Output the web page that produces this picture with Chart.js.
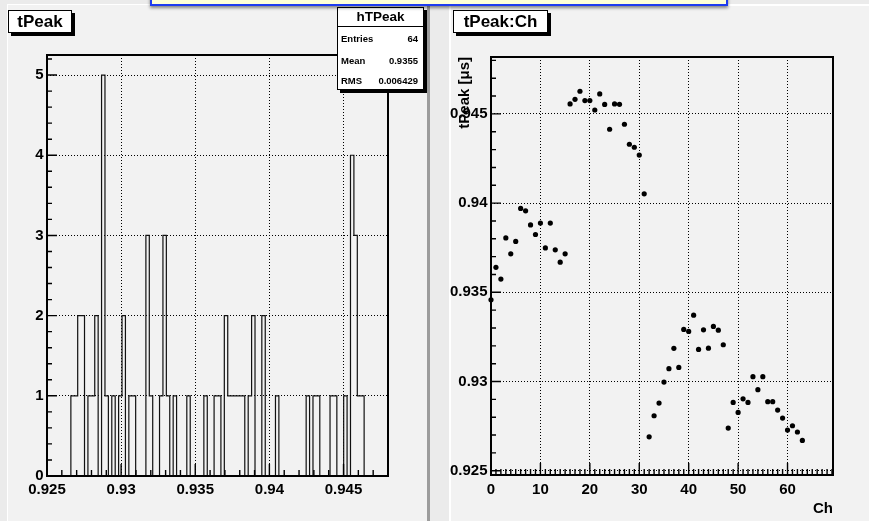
<!DOCTYPE html>
<html>
<head>
<meta charset="utf-8">
<title>tPeak</title>
<script src="https://cdn.jsdelivr.net/npm/chart.js@4.4.1/dist/chart.umd.min.js"></script>
<style>
  html, body { margin: 0; padding: 0; }
  body {
    width: 869px; height: 521px; overflow: hidden; position: relative;
    background: #ebebeb;
    font-family: "Liberation Sans", Arial, sans-serif;
  }
  .pad { position: absolute; background: #f2f2f2; box-sizing: border-box; }
  #padL { left: 7px; top: 4px; width: 423px; height: 530px;
          border-top: 1px solid #fff; border-left: 1px solid #fff; border-right: 3px solid #9c9c9c; }
  #padR { left: 449px; top: 4px; width: 430px; height: 530px;
          border-top: 2px solid #fff; border-left: 2px solid #fff; }
  canvas { position: absolute; top: 0; }
  #cL { left: 0; }
  #cR { left: 430px; }
  .ptitle {
    position: absolute; box-sizing: border-box; background: #fff;
    border: 1px solid #000; box-shadow: 3px 3px 0 #000;
    font-weight: bold; font-size: 17px; line-height: 21px; text-align: center; color: #000;
  }
  #tL { left: 8px; top: 10px; width: 64px; height: 23px; }
  #tR { left: 453px; top: 10px; width: 95px; height: 23px; }
  #stats {
    position: absolute; box-sizing: border-box; left: 337px; top: 7px; width: 87px; height: 83px;
    background: #fff; border: 1px solid #000; box-shadow: 3px 3px 0 #000; color: #000;
  }
  #stats .sh {
    position: absolute; left: 0; top: 0; right: 0; height: 19px; box-sizing: border-box;
    border-bottom: 1px solid #000; text-align: center;
    font-weight: bold; font-size: 13.5px; line-height: 18px;
  }
  #stats .sr {
    position: absolute; left: 3px; right: 5px; height: 12px;
    font-weight: bold; font-size: 9.5px; line-height: 12px;
  }
  #stats .sr .v { position: absolute; right: 0; top: 0; }
  #banner {
    position: absolute; left: 150px; top: -14px; width: 578px; height: 20px; box-sizing: border-box;
    background: #ffffd6; border: 2px solid #1f3cf0; box-shadow: 0 2px 3px rgba(0,0,0,0.45);
  }
</style>
</head>
<body>
<div class="pad" id="padL"></div>
<div class="pad" id="padR"></div>
<canvas id="cL" width="430" height="521"></canvas>
<canvas id="cR" width="439" height="521"></canvas>
<div class="ptitle" id="tL"></div>
<div class="ptitle" id="tR"></div>
<div id="stats"></div>
<div id="banner"></div>
<script>
// ---- hTPeak: tPeak distribution, 100 bins on [0.925, 0.948] ----
const histName = 'hTPeak';
const histTitle = 'tPeak';
const histMin = 0.925;
const histMax = 0.948;
const histYMax = 5.25;
const histCounts = [
  0, 0, 0, 0, 0, 0, 0, 1, 1, 2,
  2, 0, 1, 1, 2, 0, 5, 1, 0, 1,
  0, 1, 2, 0, 1, 1, 0, 0, 0, 3,
  1, 0, 0, 1, 3, 1, 0, 1, 0, 0,
  0, 1, 0, 0, 0, 0, 1, 0, 0, 1,
  1, 0, 2, 1, 1, 1, 1, 1, 0, 1,
  2, 0, 0, 2, 0, 0, 0, 1, 0, 0,
  0, 0, 0, 0, 0, 0, 1, 0, 1, 1,
  0, 0, 0, 1, 1, 0, 0, 1, 0, 4,
  3, 1, 1, 0, 0, 0, 0, 0, 0, 0
];
const histXTicks = [0.925, 0.93, 0.935, 0.94, 0.945];
const histXLabels = ['0.925', '0.93', '0.935', '0.94', '0.945'];
const histYTicks = [0, 1, 2, 3, 4, 5];
const histYLabels = ['0', '1', '2', '3', '4', '5'];
const statLabels = ['Entries', 'Mean', 'RMS'];
const statValues = ['64', '0.9355', '0.006429'];

// ---- tPeak:Ch: peak time per channel ----
const scatterTitle = 'tPeak:Ch';
const channels = [
   0,  1,  2,  3,  4,  5,  6,  7,  8,  9, 10, 11, 12, 13, 14, 15,
  16, 17, 18, 19, 20, 21, 22, 23, 24, 25, 26, 27, 28, 29, 30, 31,
  32, 33, 34, 35, 36, 37, 38, 39, 40, 41, 42, 43, 44, 45, 46, 47,
  48, 49, 50, 51, 52, 53, 54, 55, 56, 57, 58, 59, 60, 61, 62, 63
];
const tPeak = [
  0.93458, 0.93640, 0.93574, 0.93805, 0.93716, 0.93785, 0.93970, 0.93957,
  0.93878, 0.93824, 0.93888, 0.93749, 0.93888, 0.93738, 0.93669, 0.93716,
  0.94556, 0.94582, 0.94627, 0.94575, 0.94575, 0.94522, 0.94612, 0.94553,
  0.94414, 0.94556, 0.94554, 0.94442, 0.94330, 0.94313, 0.94269, 0.94052,
  0.92690, 0.92808, 0.92879, 0.92997, 0.93072, 0.93186, 0.93079, 0.93292,
  0.93281, 0.93372, 0.93180, 0.93290, 0.93187, 0.93309, 0.93288, 0.93206,
  0.92739, 0.92883, 0.92827, 0.92903, 0.92883, 0.93027, 0.92954, 0.93027,
  0.92887, 0.92887, 0.92840, 0.92795, 0.92728, 0.92752, 0.92717, 0.92670
];
const chXMin = 0, chXMax = 69.2;
const chYMin = 0.92476, chYMax = 0.94819;
const chXTicks = [0, 10, 20, 30, 40, 50, 60];
const chXLabels = ['0', '10', '20', '30', '40', '50', '60'];
const chYTicks = [0.925, 0.93, 0.935, 0.94, 0.945];
const chYLabels = ['0.925', '0.93', '0.935', '0.94', '0.945'];
const chXTitle = 'Ch';
const chYTitle = 'tPeak [\u03bcs]';

// ---- text boxes ----
document.getElementById('tL').textContent = histTitle;
document.getElementById('tR').textContent = scatterTitle;
(function buildStats() {
  const box = document.getElementById('stats');
  const head = document.createElement('div');
  head.className = 'sh';
  head.textContent = histName;
  box.appendChild(head);
  const rowTops = [25, 47, 67];
  statLabels.forEach((lab, i) => {
    const row = document.createElement('div');
    row.className = 'sr';
    row.style.top = rowTops[i] + 'px';
    const l = document.createElement('span');
    l.textContent = lab;
    const v = document.createElement('span');
    v.className = 'v';
    v.textContent = statValues[i];
    row.appendChild(l);
    row.appendChild(v);
    box.appendChild(row);
  });
})();

// ---- helpers ----
function tickRange(lo, hi, step) {
  const out = [];
  const n = Math.round((hi - lo) / step);
  for (let i = 0; i <= n; i++) out.push(+(lo + i * step).toFixed(6));
  return out;
}

Chart.defaults.font.family = '"Liberation Sans", Arial, sans-serif';
const tickFont = { family: '"Liberation Sans", Arial, sans-serif', weight: 'bold', size: 15 };

// Frame box plus inward major/minor tick marks, placed through the chart scales
const rootAxes = {
  id: 'rootAxes',
  afterDatasetsDraw(chart, _args, o) {
    const { ctx, chartArea: a } = chart;
    const xs = chart.scales.x, ys = chart.scales.y;
    ctx.save();
    ctx.strokeStyle = '#000';
    ctx.lineWidth = 1.4;
    ctx.beginPath();
    const xt = (list, len) => list.forEach(v => {
      const px = xs.getPixelForValue(v);
      if (px < a.left - 0.5 || px > a.right + 0.5) return;
      ctx.moveTo(px, a.bottom); ctx.lineTo(px, a.bottom - len);
    });
    const yt = (list, len) => list.forEach(v => {
      const py = ys.getPixelForValue(v);
      if (py < a.top - 0.5 || py > a.bottom + 0.5) return;
      ctx.moveTo(a.left, py); ctx.lineTo(a.left + len, py);
    });
    xt(o.xMinor, o.xMinorLen); xt(o.xMajor, o.xMajorLen);
    yt(o.yMinor, o.yMinorLen); yt(o.yMajor, o.yMajorLen);
    ctx.stroke();
    ctx.lineWidth = 2;
    ctx.strokeRect(a.left, a.top, a.right - a.left, a.bottom - a.top);
    ctx.restore();
  }
};

function axisOpts(min, max, ticks, labels, fitKey, fitVal, pad) {
  return {
    type: 'linear', min, max,
    afterBuildTicks: s => { s.ticks = ticks.map(v => ({ value: v })); },
    afterFit: s => { s[fitKey] = fitVal; },
    grid: { color: '#000', lineWidth: 1, drawTicks: false },
    border: { display: false, dash: [1, 2] },
    ticks: {
      autoSkip: false, maxRotation: 0, minRotation: 0, padding: pad,
      color: '#000', font: tickFont,
      callback: (v, i) => labels[i]
    }
  };
}

// ---- left: histogram ----
const binW = (histMax - histMin) / histCounts.length;
const histSteps = histCounts.map((c, i) => ({ x: histMin + i * binW, y: c }));
histSteps.push({ x: histMax, y: 0 });

new Chart(document.getElementById('cL'), {
  type: 'line',
  data: {
    datasets: [{
      data: histSteps,
      stepped: 'before',
      borderColor: '#111',
      borderWidth: 1.2,
      pointRadius: 0,
      fill: false
    }]
  },
  options: {
    responsive: false, animation: false, events: [],
    layout: { padding: { left: 0, top: 55, right: 42, bottom: 0 } },
    plugins: {
      legend: { display: false }, tooltip: { enabled: false },
      rootAxes: {
        xMajor: histXTicks, xMinor: tickRange(histMin, histMax, 0.001), xMajorLen: 12, xMinorLen: 6,
        yMajor: histYTicks, yMinor: tickRange(0, 5.2, 0.2), yMajorLen: 10, yMinorLen: 5
      }
    },
    scales: {
      x: axisOpts(histMin, histMax, histXTicks, histXLabels, 'height', 45, 5),
      y: axisOpts(0, histYMax, histYTicks, histYLabels, 'width', 47, 3.5)
    }
  },
  plugins: [rootAxes]
});

// ---- right: tPeak vs channel ----
const xR = axisOpts(chXMin, chXMax, chXTicks, chXLabels, 'height', 46, 6);
xR.title = { display: true, text: chXTitle, align: 'end', color: '#000', font: tickFont, padding: { top: 0, bottom: 3 } };
const yR = axisOpts(chYMin, chYMax, chYTicks, chYLabels, 'width', 61, 3.5);
yR.title = { display: true, text: chYTitle, align: 'end', color: '#000', font: tickFont, padding: { top: 26, bottom: 0 } };

new Chart(document.getElementById('cR'), {
  type: 'scatter',
  data: {
    datasets: [{
      data: channels.map((c, i) => ({ x: c, y: tPeak[i] })),
      pointRadius: 2.6,
      pointBackgroundColor: '#000',
      pointBorderWidth: 0,
      clip: false
    }]
  },
  options: {
    responsive: false, animation: false, events: [],
    layout: { padding: { left: 0, top: 57, right: 36, bottom: 0 } },
    plugins: {
      legend: { display: false }, tooltip: { enabled: false },
      rootAxes: {
        xMajor: chXTicks, xMinor: tickRange(0, 69, 1), xMajorLen: 12, xMinorLen: 6,
        yMajor: chYTicks, yMinor: tickRange(0.925, 0.948, 0.001), yMajorLen: 10, yMinorLen: 5
      }
    },
    scales: { x: xR, y: yR }
  },
  plugins: [rootAxes]
});
</script>
</body>
</html>
